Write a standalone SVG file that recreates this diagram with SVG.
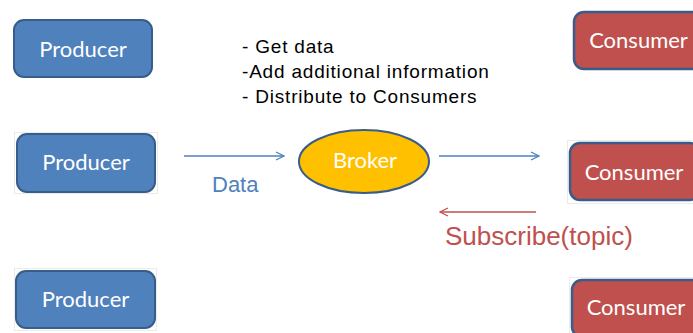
<svg xmlns="http://www.w3.org/2000/svg" width="693" height="333" viewBox="0 0 693 333">
<style>
.prod{fill:#4F81BD;stroke:#385D8A;stroke-width:2}
.cons{fill:#C0504D;stroke:#385D8A;stroke-width:2.5}
.frame{fill:#fff;stroke:#ebebeb;stroke-width:1}
.lbl{font-family:Lato,"Open Sans",sans-serif;font-size:22px;fill:#fff;text-anchor:middle}
.note{font-family:"Liberation Sans",Arial,sans-serif;font-size:19px;letter-spacing:0.8px;fill:#000}
.blue{stroke:#4F81BD;stroke-width:1.3;fill:none}
.red{stroke:#C0504D;stroke-width:1.3;fill:none}
</style>
<defs>
<marker id="ab" viewBox="0 0 10 10" refX="9" refY="5" markerWidth="10" markerHeight="10" markerUnits="userSpaceOnUse" orient="auto"><path d="M1,1 L9,5 L1,9" fill="none" stroke="#4F81BD" stroke-width="1.3"/></marker>
<marker id="ar" viewBox="0 0 10 10" refX="9" refY="5" markerWidth="10" markerHeight="10" markerUnits="userSpaceOnUse" orient="auto"><path d="M1,1 L9,5 L1,9" fill="none" stroke="#C0504D" stroke-width="1.3"/></marker>
</defs>
<rect width="693" height="333" fill="#fff"/>
<g id="producer1"><rect class="prod" x="14" y="20" width="138" height="57" rx="10"/><text class="lbl" x="83" y="57">Producer</text></g>
<g id="producer2"><rect class="frame" x="14.5" y="132.5" width="143" height="61"/><rect class="prod" x="17" y="134" width="138" height="58" rx="10"/><text class="lbl" x="86" y="170">Producer</text></g>
<g id="producer3"><rect class="frame" x="14.5" y="268.5" width="142" height="62"/><rect class="prod" x="16" y="271" width="139" height="57" rx="10"/><text class="lbl" x="85.5" y="307">Producer</text></g>
<g id="consumer1"><rect class="cons" x="574" y="12" width="130" height="57" rx="10"/><text class="lbl" x="638.5" y="48">Consumer</text></g>
<g id="consumer2"><rect class="frame" x="567.5" y="140.5" width="130" height="63"/><rect class="cons" x="570" y="143" width="130" height="57" rx="10"/><text class="lbl" x="634" y="180">Consumer</text></g>
<g id="consumer3"><rect class="frame" x="569.5" y="277.5" width="130" height="60"/><rect class="cons" x="572" y="280" width="130" height="57" rx="10"/><text class="lbl" x="636" y="315">Consumer</text></g>
<g id="broker"><ellipse cx="364" cy="161.5" rx="65" ry="31.5" fill="#FFC000" stroke="#385D8A" stroke-width="2"/><text class="lbl" x="365" y="168">Broker</text></g>
<g id="notes">
<text class="note" x="242" y="53">- Get data</text>
<text class="note" x="242" y="78">-Add additional information</text>
<text class="note" x="242" y="103">- Distribute to Consumers</text>
</g>
<g id="connectors">
<line class="blue" x1="184" y1="156" x2="284" y2="156" marker-end="url(#ab)"/>
<line class="blue" x1="439" y1="156" x2="539" y2="156" marker-end="url(#ab)"/>
<line class="red" x1="536" y1="212" x2="440" y2="212" marker-end="url(#ar)"/>
<text x="212" y="192" font-family="Liberation Sans,Arial,sans-serif" font-size="22" fill="#4F81BD">Data</text>
<text x="445" y="245" font-family="Liberation Sans,Arial,sans-serif" font-size="26" fill="#C0504D">Subscribe(topic)</text>
</g>
</svg>
